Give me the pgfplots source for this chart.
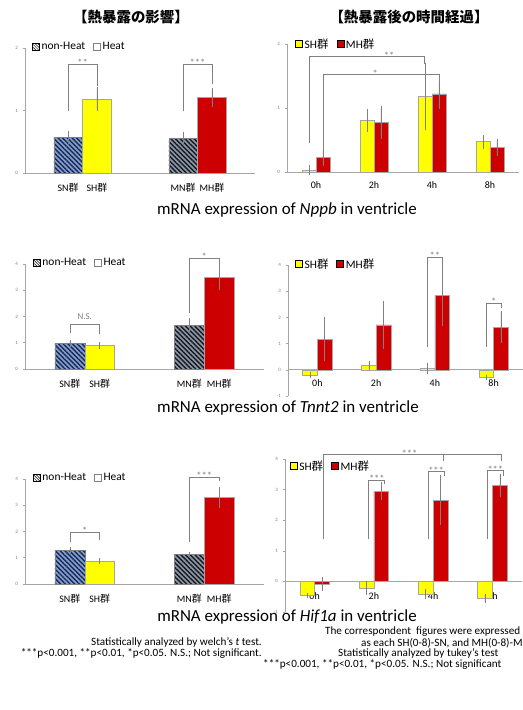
\documentclass[border=0pt]{standalone}
\usepackage{fontspec}
\setmainfont{Carlito}
\newfontfamily\cjk{Noto Sans CJK JP}
\usepackage{pgfplots}
\pgfplotsset{compat=1.18}
\usetikzlibrary{patterns,patterns.meta}
\definecolor{yel}{HTML}{FFFF00}
\definecolor{mhred}{HTML}{CC0000}
\definecolor{snfill}{HTML}{7F9FD8}
\definecolor{snline}{HTML}{1F2A4A}
\definecolor{mnfill}{HTML}{8A98AE}
\definecolor{mnline}{HTML}{1A1A1A}
\definecolor{axgray}{HTML}{A6A6A6}
\definecolor{txtgray}{HTML}{808080}
\tikzset{hatchleg/.style={draw=black, fill=white, postaction={pattern={Lines[angle=-45,distance=2bp,line width=0.5bp]}, pattern color=black}}}
\pgfplotsset{
  panel/.style={scale only axis, clip=false, axis y line*=left,
    x axis line style={axgray, line width=0.9bp},
    y axis line style={axgray, line width=0.6bp},
    ytick style={axgray, line width=0.5bp}, tick align=outside, major tick length=2bp,
    xtick style={draw=none},
    yticklabel style={font=\fontsize{5}{6}\selectfont, text=txtgray, xshift=-1.5bp},
    xticklabel style={font=\fontsize{10}{12}\selectfont, text=black},
    /pgf/number format/assume math mode=true,
    legend image code/.code={\draw[##1] (0bp,-3.5bp) rectangle (7bp,3.5bp);},
    legend style={draw=none, fill=none, font=\fontsize{11.5}{13}\selectfont, inner sep=0pt, anchor=west,
      /tikz/every even column/.append style={column sep=6bp}},
    legend cell align=left, legend columns=2},
  lpanel/.style={panel, axis x line*=bottom, xmin=-0.5, xmax=1.5,
    xtick={-0.125,0.125,0.875,1.125},
    xticklabels={SN{\cjk 群}, SH{\cjk 群}, MN{\cjk 群}, MH{\cjk 群}},
    xticklabel style={yshift=-5bp}},
  rpanel/.style={panel, axis x line*=middle, xmin=-0.5, xmax=3.5,
    xtick={0,1,2,3}, xticklabels={0h,2h,4h,8h}, xticklabel style={yshift=-4bp}},
  bar/.style={ybar, bar width=#1, bar shift=0pt, line width=0.5bp, forget plot,
    error bars/y dir=both, error bars/y explicit,
    error bars/error bar style={txtgray, line width=0.5bp},
    error bars/error mark options={txtgray, mark size=1.5bp, line width=0.5bp}},
  bar/.default=0.25,
  snbar/.style={bar=#1, fill=snfill, draw=gray, postaction={pattern={Lines[angle=-45,distance=3.3bp,line width=1.4bp]}, pattern color=snline}},
  snbar/.default=0.25,
  mnbar/.style={bar=#1, fill=mnfill, draw=gray, postaction={pattern={Lines[angle=-45,distance=3.3bp,line width=1.4bp]}, pattern color=mnline}},
  mnbar/.default=0.25,
  shbar/.style={bar=#1, fill=yel, draw=axgray},
  shbar/.default=0.25,
  mhbar/.style={bar=#1, fill=mhred, draw=axgray},
  mhbar/.default=0.25,
}
\newcommand\brk[5]{\draw[txtgray, line width=0.6bp] (axis cs:#1,#2) -- (axis cs:#1,#3) -- (axis cs:#4,#3) -- (axis cs:#4,#5);}
\newcommand\sig[3]{\node[txtgray, font=\fontsize{10.5}{12}\selectfont, anchor=base, inner sep=0pt, yshift=-2.5bp] at (axis cs:#1,#2) {#3};}
\begin{document}
\begin{tikzpicture}
\useasboundingbox (0,0) rectangle (523bp,710bp);
\clip (0,0) rectangle (523bp,710bp);
\fill[white] (0,0) rectangle (523bp,710bp);

% titles
\node[font={\cjk\bfseries\fontsize{14.5}{16}\selectfont}] at (131bp,693bp) {【熱暴露の影響】};
\node[font={\cjk\bfseries\fontsize{14.5}{16}\selectfont}] at (409bp,693bp) {【熱暴露後の時間経過】};

% ---------------- TL ----------------
\begin{axis}[lpanel, at={(25bp,537bp)}, anchor=south west, width=230bp, height=125bp,
  ymin=0, ymax=2, ytick={0,1,2}, legend style={at={(0.03,1.008)}}]
\addplot[snbar] coordinates {(-0.125,0.565) +- (0,0.085)};
\addplot[shbar] coordinates {(0.125,1.184) +- (0,0.165)};
\addplot[mnbar] coordinates {(0.875,0.549) +- (0,0.085)};
\addplot[mhbar] coordinates {(1.125,1.21) +- (0,0.128)};
\addlegendimage{hatchleg}
\addlegendentry{non-Heat}
\addlegendimage{draw=gray, fill=white}
\addlegendentry{Heat}
\brk{-0.125}{0.99}{1.74}{0.125}{1.39}
\sig{0}{1.74}{**}
\brk{0.875}{0.99}{1.74}{1.125}{1.42}
\sig{1}{1.74}{***}
\end{axis}

% ---------------- TR ----------------
\begin{axis}[rpanel, at={(287bp,538bp)}, anchor=south west, width=232bp, height=128bp,
  ymin=0, ymax=2, ytick={0,1,2}, legend style={at={(0.035,1.0)}}]
\addplot[shbar=0.24] coordinates {(-0.12,0.03) +- (0,0.06) (0.88,0.81) +- (0,0.155) (1.88,1.177) +- (0,0.505) (2.88,0.473) +- (0,0.083)};
\addplot[mhbar=0.24] coordinates {(0.12,0.225) +- (0,0.11) (1.12,0.77) +- (0,0.23) (2.12,1.22) +- (0,0.205) (3.12,0.385) +- (0,0.112)};
\addlegendimage{draw=black, fill=yel}
\addlegendentry{SH{\cjk 群}}
\addlegendimage{draw=black, fill=mhred}
\addlegendentry{MH{\cjk 群}}
\brk{-0.12}{0.45}{1.80}{1.86}{1.69}
\sig{1.26}{1.80}{**}
\brk{0.12}{0.30}{1.52}{2.12}{1.44}
\sig{1.02}{1.52}{*}
\end{axis}

\node[font=\fontsize{17}{20}\selectfont] at (287bp,500bp) {mRNA expression of \textit{Nppb} in ventricle};

% ---------------- ML ----------------
\begin{axis}[lpanel, at={(25bp,341bp)}, anchor=south west, width=239bp, height=105bp,
  ymin=0, ymax=4, ytick={0,1,2,3,4}, legend style={at={(0.033,1.01)}}]
\addplot[snbar] coordinates {(-0.125,0.98) +- (0,0.07)};
\addplot[shbar] coordinates {(0.125,0.90) +- (0,0.07)};
\addplot[mnbar] coordinates {(0.875,1.65) +- (0,0.23)};
\addplot[mhbar] coordinates {(1.125,3.49) +- (0,0.44)};
\addlegendimage{hatchleg}
\addlegendentry{non-Heat}
\addlegendimage{draw=gray, fill=white}
\addlegendentry{Heat}
\brk{-0.125}{1.37}{1.71}{0.125}{1.33}
\node[txtgray, font=\fontsize{9}{10}\selectfont, anchor=base, inner sep=0pt, yshift=5bp] at (axis cs:0,1.71) {N.S.};
\brk{0.875}{2.13}{4.23}{1.125}{4.0}
\sig{1}{4.23}{*}
\end{axis}

% ---------------- MR ----------------
\begin{axis}[rpanel, at={(288bp,314bp)}, anchor=south west, width=235bp, height=131bp,
  ymin=-1, ymax=4, ytick={-1,0,1,2,3,4}, legend style={at={(0.03,1.008)}}]
\addplot[shbar] coordinates {(-0.125,-0.2) +- (0,0.06) (0.875,0.17) +- (0,0.115) (1.875,0.05) +- (0,0.17) (2.875,-0.29) +- (0,0.05)};
\addplot[mhbar] coordinates {(0.125,1.16) +- (0,0.78) (1.125,1.71) +- (0,0.875) (2.125,2.84) +- (0,1.1) (3.125,1.63) +- (0,0.55)};
\addlegendimage{draw=black, fill=yel}
\addlegendentry{SH{\cjk 群}}
\addlegendimage{draw=black, fill=mhred}
\addlegendentry{MH{\cjk 群}}
\brk{1.875}{0.88}{4.31}{2.125}{3.93}
\sig{2}{4.31}{**}
\brk{2.875}{0.88}{2.55}{3.125}{2.37}
\sig{3}{2.55}{*}
\end{axis}

\node[font=\fontsize{17}{20}\selectfont] at (288bp,302bp) {mRNA expression of \textit{Tnnt2} in ventricle};

% ---------------- BL ----------------
\begin{axis}[lpanel, at={(25bp,126bp)}, anchor=south west, width=239bp, height=105bp,
  ymin=0, ymax=4, ytick={0,1,2,3,4}, legend style={at={(0.033,1.01)}}]
\addplot[snbar] coordinates {(-0.125,1.27) +- (0,0.09)};
\addplot[shbar] coordinates {(0.125,0.876) +- (0,0.06)};
\addplot[mnbar] coordinates {(0.875,1.13) +- (0,0.04)};
\addplot[mhbar] coordinates {(1.125,3.30) +- (0,0.35)};
\addlegendimage{hatchleg}
\addlegendentry{non-Heat}
\addlegendimage{draw=gray, fill=white}
\addlegendentry{Heat}
\brk{-0.125}{1.6}{1.98}{0.125}{1.68}
\sig{0}{1.98}{*}
\brk{0.875}{1.6}{4.07}{1.125}{3.92}
\sig{1}{4.07}{***}
\end{axis}

% ---------------- BR ----------------
\begin{axis}[rpanel, at={(285bp,98bp)}, anchor=south west, width=237bp, height=153bp,
  ymin=-1, ymax=4, ytick={-1,0,1,2,3,4}, legend style={at={(0.02,0.954)}},
  xticklabel style={yshift=-1.5bp}]
\addplot[shbar] coordinates {(-0.125,-0.45) +- (0,0.03) (0.875,-0.21) +- (0,0.17) (1.875,-0.41) +- (0,0.12) (2.875,-0.56) +- (0,0.1)};
\addplot[mhbar] coordinates {(0.125,-0.08) +- (0,0.18) (1.125,2.94) +- (0,0.245) (2.125,2.66) +- (0,0.78) (3.125,3.14) +- (0,0.33)};
\addlegendimage{draw=black, fill=yel}
\addlegendentry{SH{\cjk 群}}
\addlegendimage{draw=black, fill=mhred}
\addlegendentry{MH{\cjk 群}}
\brk{0.15}{1.38}{4.14}{3.15}{3.95}
\draw[txtgray, line width=0.6bp] (axis cs:2.17,4.14) -- (axis cs:2.17,3.95);
\sig{1.6}{4.14}{***}
\brk{0.9}{1.38}{3.32}{1.17}{3.19}
\sig{1.05}{3.32}{***}
\brk{1.92}{1.38}{3.59}{2.19}{3.45}
\sig{2.05}{3.59}{***}
\brk{2.92}{1.38}{3.62}{3.19}{3.45}
\sig{3.05}{3.62}{***}
\end{axis}

\node[font=\fontsize{17}{20}\selectfont] at (287bp,93bp) {mRNA expression of \textit{Hif1a} in ventricle};

% footnotes
\begin{scope}[every node/.style={font=\fontsize{11.2}{12}\selectfont, inner sep=0pt}]
\node[anchor=east] at (262bp,67.3bp) {Statistically analyzed by welch’s \textit{t} test.};
\node[anchor=east] at (262bp,56.7bp) {***p<0.001, **p<0.01, *p<0.05. N.S.; Not significant.};
\node[anchor=west] at (325bp,78.3bp) {The correspondent\ \ figures were expressed};
\node[anchor=west] at (361bp,67.3bp) {as each SH(0-8)-SN, and MH(0-8)-MN};
\node[anchor=west] at (338bp,56.7bp) {Statistically analyzed by tukey’s test};
\node[anchor=west] at (263bp,46bp) {***p<0.001, **p<0.01, *p<0.05. N.S.; Not significant};
\end{scope}
\end{tikzpicture}
\end{document}
